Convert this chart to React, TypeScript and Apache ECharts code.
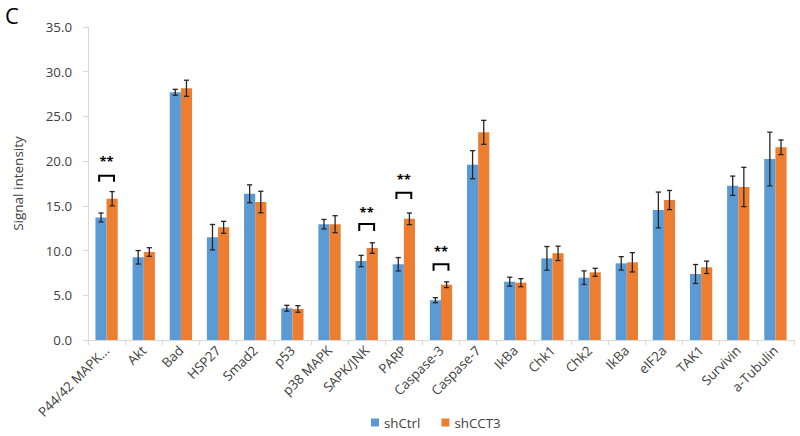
import React, { useEffect, useRef } from "react";
import * as echarts from "echarts";

const categories = ["P44/42 MAPK...", "Akt", "Bad", "HSP27", "Smad2", "p53", "p38 MAPK", "SAPK/JNK", "PARP", "Caspase-3", "Caspase-7", "IkBa", "Chk1", "Chk2", "IkBa", "eIF2a", "TAK1", "Survivin", "a-Tubulin"];
const shCtrl = [13.7, 9.25, 27.7, 11.5, 16.35, 3.55, 12.95, 8.83, 8.47, 4.45, 19.6, 6.52, 9.13, 6.97, 8.57, 14.54, 7.38, 17.25, 20.24];
const shCtrlErr = [0.5, 0.75, 0.33, 1.42, 1.0, 0.33, 0.53, 0.63, 0.75, 0.28, 1.57, 0.5, 1.32, 0.76, 0.75, 2.0, 1.06, 1.08, 3.0];
const shCCT3 = [15.8, 9.84, 28.15, 12.6, 15.43, 3.47, 12.95, 10.28, 13.55, 6.18, 23.22, 6.41, 9.69, 7.57, 8.69, 15.65, 8.13, 17.11, 21.55];
const shCCT3Err = [0.8, 0.48, 0.9, 0.67, 1.2, 0.37, 0.95, 0.59, 0.65, 0.32, 1.34, 0.45, 0.8, 0.45, 1.08, 1.07, 0.69, 2.2, 0.82];
const sigIndex = [0, 7, 8, 9];
const sigBracketTop = [18.37, 12.97, 16.47, 8.46];
const sigBracketLeg = [17.7, 12.2, 15.77, 7.75];
const sigStarY = [20.3, 14.7, 18.3, 10.3];
const sigLabel = "**";
const yTicks = { min: 0, max: 35, interval: 5 };

const BLUE = "#5B9BD5";
const ORANGE = "#ED7D31";
const TEXT = "#404040";
const FONT = "'Open Sans', sans-serif";

function errorSeries(values: number[], errs: number[], side: number) {
  return {
    type: "custom",
    silent: true,
    z: 5,
    data: values.map((v, i) => [i, v - errs[i], v + errs[i]]),
    encode: { x: 0, y: [1, 2] },
    renderItem: (params: any, api: any) => {
      const idx = api.value(0);
      const lo = api.coord([idx, api.value(1)]);
      const hi = api.coord([idx, api.value(2)]);
      const band = api.size([1, 0])[0];
      const x = lo[0] + side * band * 0.15;
      const cap = 2.6;
      const st = { stroke: "#262626", lineWidth: 1.3 };
      return {
        type: "group",
        children: [
          { type: "line", shape: { x1: x, y1: lo[1], x2: x, y2: hi[1] }, style: st },
          { type: "line", shape: { x1: x - cap, y1: lo[1], x2: x + cap, y2: lo[1] }, style: st },
          { type: "line", shape: { x1: x - cap, y1: hi[1], x2: x + cap, y2: hi[1] }, style: st },
        ],
      };
    },
  };
}

export default function App() {
  const ref = useRef<HTMLDivElement>(null);
  useEffect(() => {
    const chart = echarts.init(ref.current!, null, { renderer: "svg" });
    const option: any = {
      animation: false,
      backgroundColor: "#ffffff",
      textStyle: { fontFamily: FONT },
      graphic: [
        {
          type: "text",
          left: 5,
          top: 4,
          style: { text: "C", fontSize: 22, fontFamily: FONT, fill: "#000000" },
        },
      ],
      legend: {
        left: 366,
        top: 411,
        itemWidth: 8,
        itemHeight: 8,
        itemGap: 21,
        icon: "rect",
        data: ["shCtrl", "shCCT3"],
        textStyle: { fontSize: 13.3, color: TEXT, fontFamily: FONT },
      },
      grid: { left: 88, right: 6, top: 27, bottom: 96, containLabel: false },
      xAxis: {
        type: "category",
        data: categories,
        axisLine: { show: true, lineStyle: { color: "#D9D9D9", width: 1 } },
        axisTick: { show: true, alignWithLabel: false, length: 5, lineStyle: { color: "#D9D9D9" } },
        axisLabel: {
          interval: 0,
          rotate: 45,
          margin: 8,
          fontSize: 13.3,
          color: TEXT,
          fontFamily: FONT,
        },
      },
      yAxis: {
        type: "value",
        min: yTicks.min,
        max: yTicks.max,
        interval: yTicks.interval,
        name: "Signal intensity",
        nameLocation: "middle",
        nameRotate: 90,
        nameGap: 63,
        nameTextStyle: { fontSize: 13.5, color: TEXT, fontFamily: FONT },
        axisLine: { show: true, lineStyle: { color: "#D9D9D9", width: 1 } },
        axisTick: { show: true, length: 5, lineStyle: { color: "#D9D9D9" } },
        splitLine: { show: false },
        axisLabel: {
          margin: 16,
          fontSize: 13.3,
          color: TEXT,
          fontFamily: FONT,
          formatter: (v: number) => v.toFixed(1),
        },
      },
      series: [
        {
          name: "shCtrl",
          type: "bar",
          data: shCtrl,
          barWidth: "30%",
          barGap: "0%",
          itemStyle: { color: BLUE },
        },
        {
          name: "shCCT3",
          type: "bar",
          data: shCCT3,
          barWidth: "30%",
          barGap: "0%",
          itemStyle: { color: ORANGE },
        },
        errorSeries(shCtrl, shCtrlErr, -1),
        errorSeries(shCCT3, shCCT3Err, 1),
        {
          type: "custom",
          silent: true,
          z: 6,
          data: sigIndex.map((c, i) => [c, sigBracketTop[i], sigBracketLeg[i], sigStarY[i]]),
          encode: { x: 0, y: [1, 2, 3] },
          renderItem: (params: any, api: any) => {
            const idx = api.value(0);
            const top = api.coord([idx, api.value(1)]);
            const leg = api.coord([idx, api.value(2)]);
            const star = api.coord([idx, api.value(3)]);
            const band = api.size([1, 0])[0];
            const half = band * 0.2;
            const cx = top[0];
            const st = { stroke: "#000000", lineWidth: 2, fill: "none" };
            return {
              type: "group",
              children: [
                {
                  type: "polyline",
                  shape: {
                    points: [
                      [cx - half, leg[1]],
                      [cx - half, top[1]],
                      [cx + half, top[1]],
                      [cx + half, leg[1]],
                    ],
                  },
                  style: st,
                },
                {
                  type: "text",
                  x: cx,
                  y: star[1] + 3,
                  style: {
                    text: sigLabel,
                    fontSize: 13,
                    fontWeight: "bold",
                    fontFamily: FONT,
                    fill: "#000000",
                    align: "center",
                    verticalAlign: "middle",
                  },
                },
              ],
            };
          },
        },
      ],
    };
    chart.setOption(option);
    return () => chart.dispose();
  }, []);
  return <div ref={ref} style={{ position: "fixed", left: 0, top: 0, width: 800, height: 436 }} />;
}
